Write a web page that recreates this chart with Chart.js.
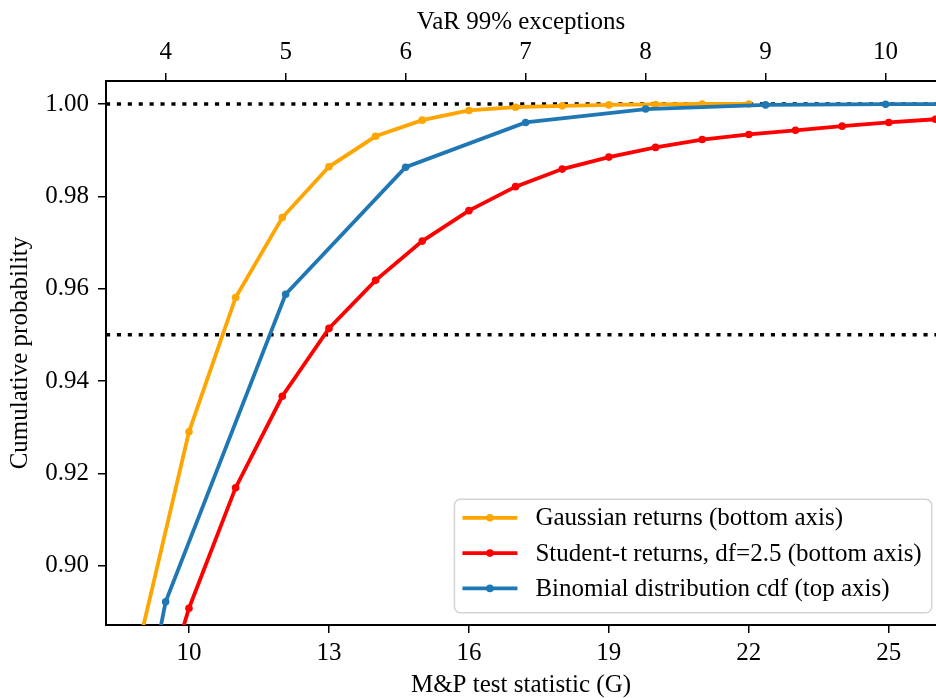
<!DOCTYPE html>
<html>
<head>
<meta charset="utf-8">
<title>M&amp;P test statistic vs VaR 99% exceptions</title>
<script src="https://cdn.jsdelivr.net/npm/chart.js@4.4.1/dist/chart.umd.min.js"></script>
<style>
  html, body { margin: 0; padding: 0; background: #fff; overflow: hidden; }
  #wrap { width: 936px; height: 698px; }
</style>
</head>
<body>
<div id="wrap"><canvas id="cdfChart" width="936" height="698"></canvas></div>
<script>
// Simulated cdf of the M&P statistic (bottom axis)
const gaussStat = [9, 10, 11, 12, 13, 14, 15, 16, 17, 18, 19, 20, 21, 22];
const gaussCdf = [0.886, 0.9290, 0.9581, 0.9754, 0.9864, 0.9930, 0.9965, 0.9986, 0.9993, 0.9996, 0.9998, 0.9999, 1.0000, 1.0000];

const studentStat = [9, 10, 11, 12, 13, 14, 15, 16, 17, 18, 19, 20, 21, 22, 23, 24, 25, 26];
const studentCdf = [0.857, 0.8908, 0.9169, 0.9367, 0.9514, 0.9618, 0.9703, 0.9769, 0.9821, 0.9859, 0.9885, 0.9906, 0.9923, 0.9934, 0.9943, 0.9952, 0.9960, 0.9967];

// Binomial cdf of the exception count (top axis)
const exceptionCount = [3, 4, 5, 6, 7, 8, 9, 10, 11];
const binomCdf = [0.7590, 0.8922, 0.9588, 0.9863, 0.9960, 0.9989, 0.9998, 0.99995, 0.99999];

// Confidence levels marked with dotted lines
const refLevels = [0.95, 1.00];

// Tick values
const statTicks = [10, 13, 16, 19, 22, 25];
const countTicks = [4, 5, 6, 7, 8, 9, 10];
const probTicks = [0.90, 0.92, 0.94, 0.96, 0.98, 1.00];

const FAMILY = "'Liberation Serif', 'Times New Roman', serif";
const FONT = { family: FAMILY, size: 25 };
Chart.defaults.font.family = FAMILY;
Chart.defaults.color = '#000';

function toPoints(xs, ys) {
  return xs.map((x, i) => ({ x: x, y: ys[i] }));
}

function series(label, color, xs, ys, axis, order) {
  return {
    label: label,
    data: toPoints(xs, ys),
    xAxisID: axis,
    yAxisID: 'y',
    borderColor: color,
    backgroundColor: color,
    borderWidth: 3.8,
    pointRadius: 3.8,
    pointBorderWidth: 0,
    pointHoverRadius: 3.8,
    tension: 0,
    clip: 0,
    order: order
  };
}

function axisGrid() {
  return { drawOnChartArea: false, drawTicks: true, color: '#000', lineWidth: 1.5, tickLength: 8 };
}

// dotted horizontal reference lines behind the curves
const refLinePlugin = {
  id: 'refLines',
  beforeDatasetsDraw(chart) {
    const { ctx, chartArea } = chart;
    const yScale = chart.scales.y;
    ctx.save();
    ctx.beginPath();
    ctx.rect(chartArea.left, chartArea.top, chartArea.right - chartArea.left, chartArea.bottom - chartArea.top);
    ctx.clip();
    ctx.strokeStyle = '#000';
    ctx.lineWidth = 3.5;
    ctx.setLineDash([4.1, 6.8]);
    refLevels.forEach(v => {
      const y = yScale.getPixelForValue(v);
      ctx.beginPath();
      ctx.moveTo(chartArea.left, y);
      ctx.lineTo(chartArea.right, y);
      ctx.stroke();
    });
    ctx.restore();
  }
};

// framed legend in the lower right corner of the plot
const legendBoxPlugin = {
  id: 'legendBox',
  afterDraw(chart) {
    const { ctx, chartArea } = chart;
    const sets = chart.data.datasets;
    ctx.save();
    ctx.font = `${FONT.size}px ${FAMILY}`;
    const textW = Math.max(...sets.map(d => ctx.measureText(d.label).width));
    const padL = 8, handleLen = 55, gap = 18, padR = 10;
    const rowH = 35.3, firstRow = 18.5, boxH = 113.4;
    const boxW = padL + handleLen + gap + textW + padR;
    const right = chartArea.right - 4.3;
    const bottom = chartArea.bottom - 12.3;
    const left = right - boxW;
    const top = bottom - boxH;

    ctx.beginPath();
    ctx.roundRect(left, top, boxW, boxH, 6);
    ctx.fillStyle = 'rgba(255,255,255,0.85)';
    ctx.fill();
    ctx.strokeStyle = '#d4d4d4';
    ctx.lineWidth = 1.5;
    ctx.stroke();

    sets.forEach((d, i) => {
      const y = top + firstRow + i * rowH;
      const x0 = left + padL;
      ctx.strokeStyle = d.borderColor;
      ctx.lineWidth = d.borderWidth;
      ctx.beginPath();
      ctx.moveTo(x0, y);
      ctx.lineTo(x0 + handleLen, y);
      ctx.stroke();
      ctx.fillStyle = d.borderColor;
      ctx.beginPath();
      ctx.arc(x0 + handleLen / 2, y, d.pointRadius, 0, Math.PI * 2);
      ctx.fill();
      ctx.fillStyle = '#000';
      ctx.textBaseline = 'middle';
      ctx.textAlign = 'left';
      ctx.fillText(d.label, x0 + handleLen + gap, y + 1);
    });
    ctx.restore();
  }
};

const ctx = document.getElementById('cdfChart').getContext('2d');
const cdfChart = new Chart(ctx, {
  type: 'line',
  data: {
    datasets: [
      series('Gaussian returns (bottom axis)', '#FFA500', gaussStat, gaussCdf, 'x', 3),
      series('Student-t returns, df=2.5 (bottom axis)', '#FF0000', studentStat, studentCdf, 'x', 2),
      series('Binomial distribution cdf (top axis)', '#1F77B4', exceptionCount, binomCdf, 'x2', 1)
    ]
  },
  options: {
    responsive: false,
    animation: false,
    devicePixelRatio: 1,
    layout: { padding: 0, autoPadding: false },
    plugins: {
      legend: { display: false },
      tooltip: { enabled: false }
    },
    scales: {
      x: {
        type: 'linear',
        position: 'bottom',
        min: 8.2215,
        max: 26.012,
        afterBuildTicks: s => { s.ticks = statTicks.map(v => ({ value: v })); },
        afterFit: s => { s.height = 73; },
        grid: axisGrid(),
        border: { display: true, color: '#000', width: 2 },
        ticks: { font: FONT, color: '#000', padding: 5, maxRotation: 0, autoSkip: false, callback: v => String(v) },
        title: { display: true, text: 'M&P test statistic (G)', color: '#000', font: { family: FAMILY, size: 25, lineHeight: 1 }, padding: { top: 0, bottom: 0 } }
      },
      x2: {
        type: 'linear',
        position: 'top',
        min: 3.503,
        max: 10.42,
        afterBuildTicks: s => { s.ticks = countTicks.map(v => ({ value: v })); },
        afterFit: s => { s.height = 81; },
        grid: axisGrid(),
        border: { display: true, color: '#000', width: 2 },
        ticks: { font: FONT, color: '#000', padding: 6, maxRotation: 0, autoSkip: false, callback: v => String(v) },
        title: { display: true, text: 'VaR 99% exceptions', color: '#000', font: { family: FAMILY, size: 25, lineHeight: 1 }, padding: { top: 10, bottom: 0 } }
      },
      y: {
        type: 'linear',
        position: 'left',
        min: 0.88716,
        max: 1.00498,
        afterBuildTicks: s => { s.ticks = probTicks.map(v => ({ value: v })); },
        afterFit: s => { s.width = 106; },
        grid: axisGrid(),
        border: { display: true, color: '#000', width: 2 },
        ticks: { font: FONT, color: '#000', padding: 9, autoSkip: false, callback: v => v.toFixed(2) },
        title: { display: true, text: 'Cumulative probability', color: '#000', font: { family: FAMILY, size: 25, lineHeight: 1.2 }, padding: { top: 5, bottom: 0 } }
      }
    }
  },
  plugins: [refLinePlugin, legendBoxPlugin]
});
</script>
</body>
</html>
